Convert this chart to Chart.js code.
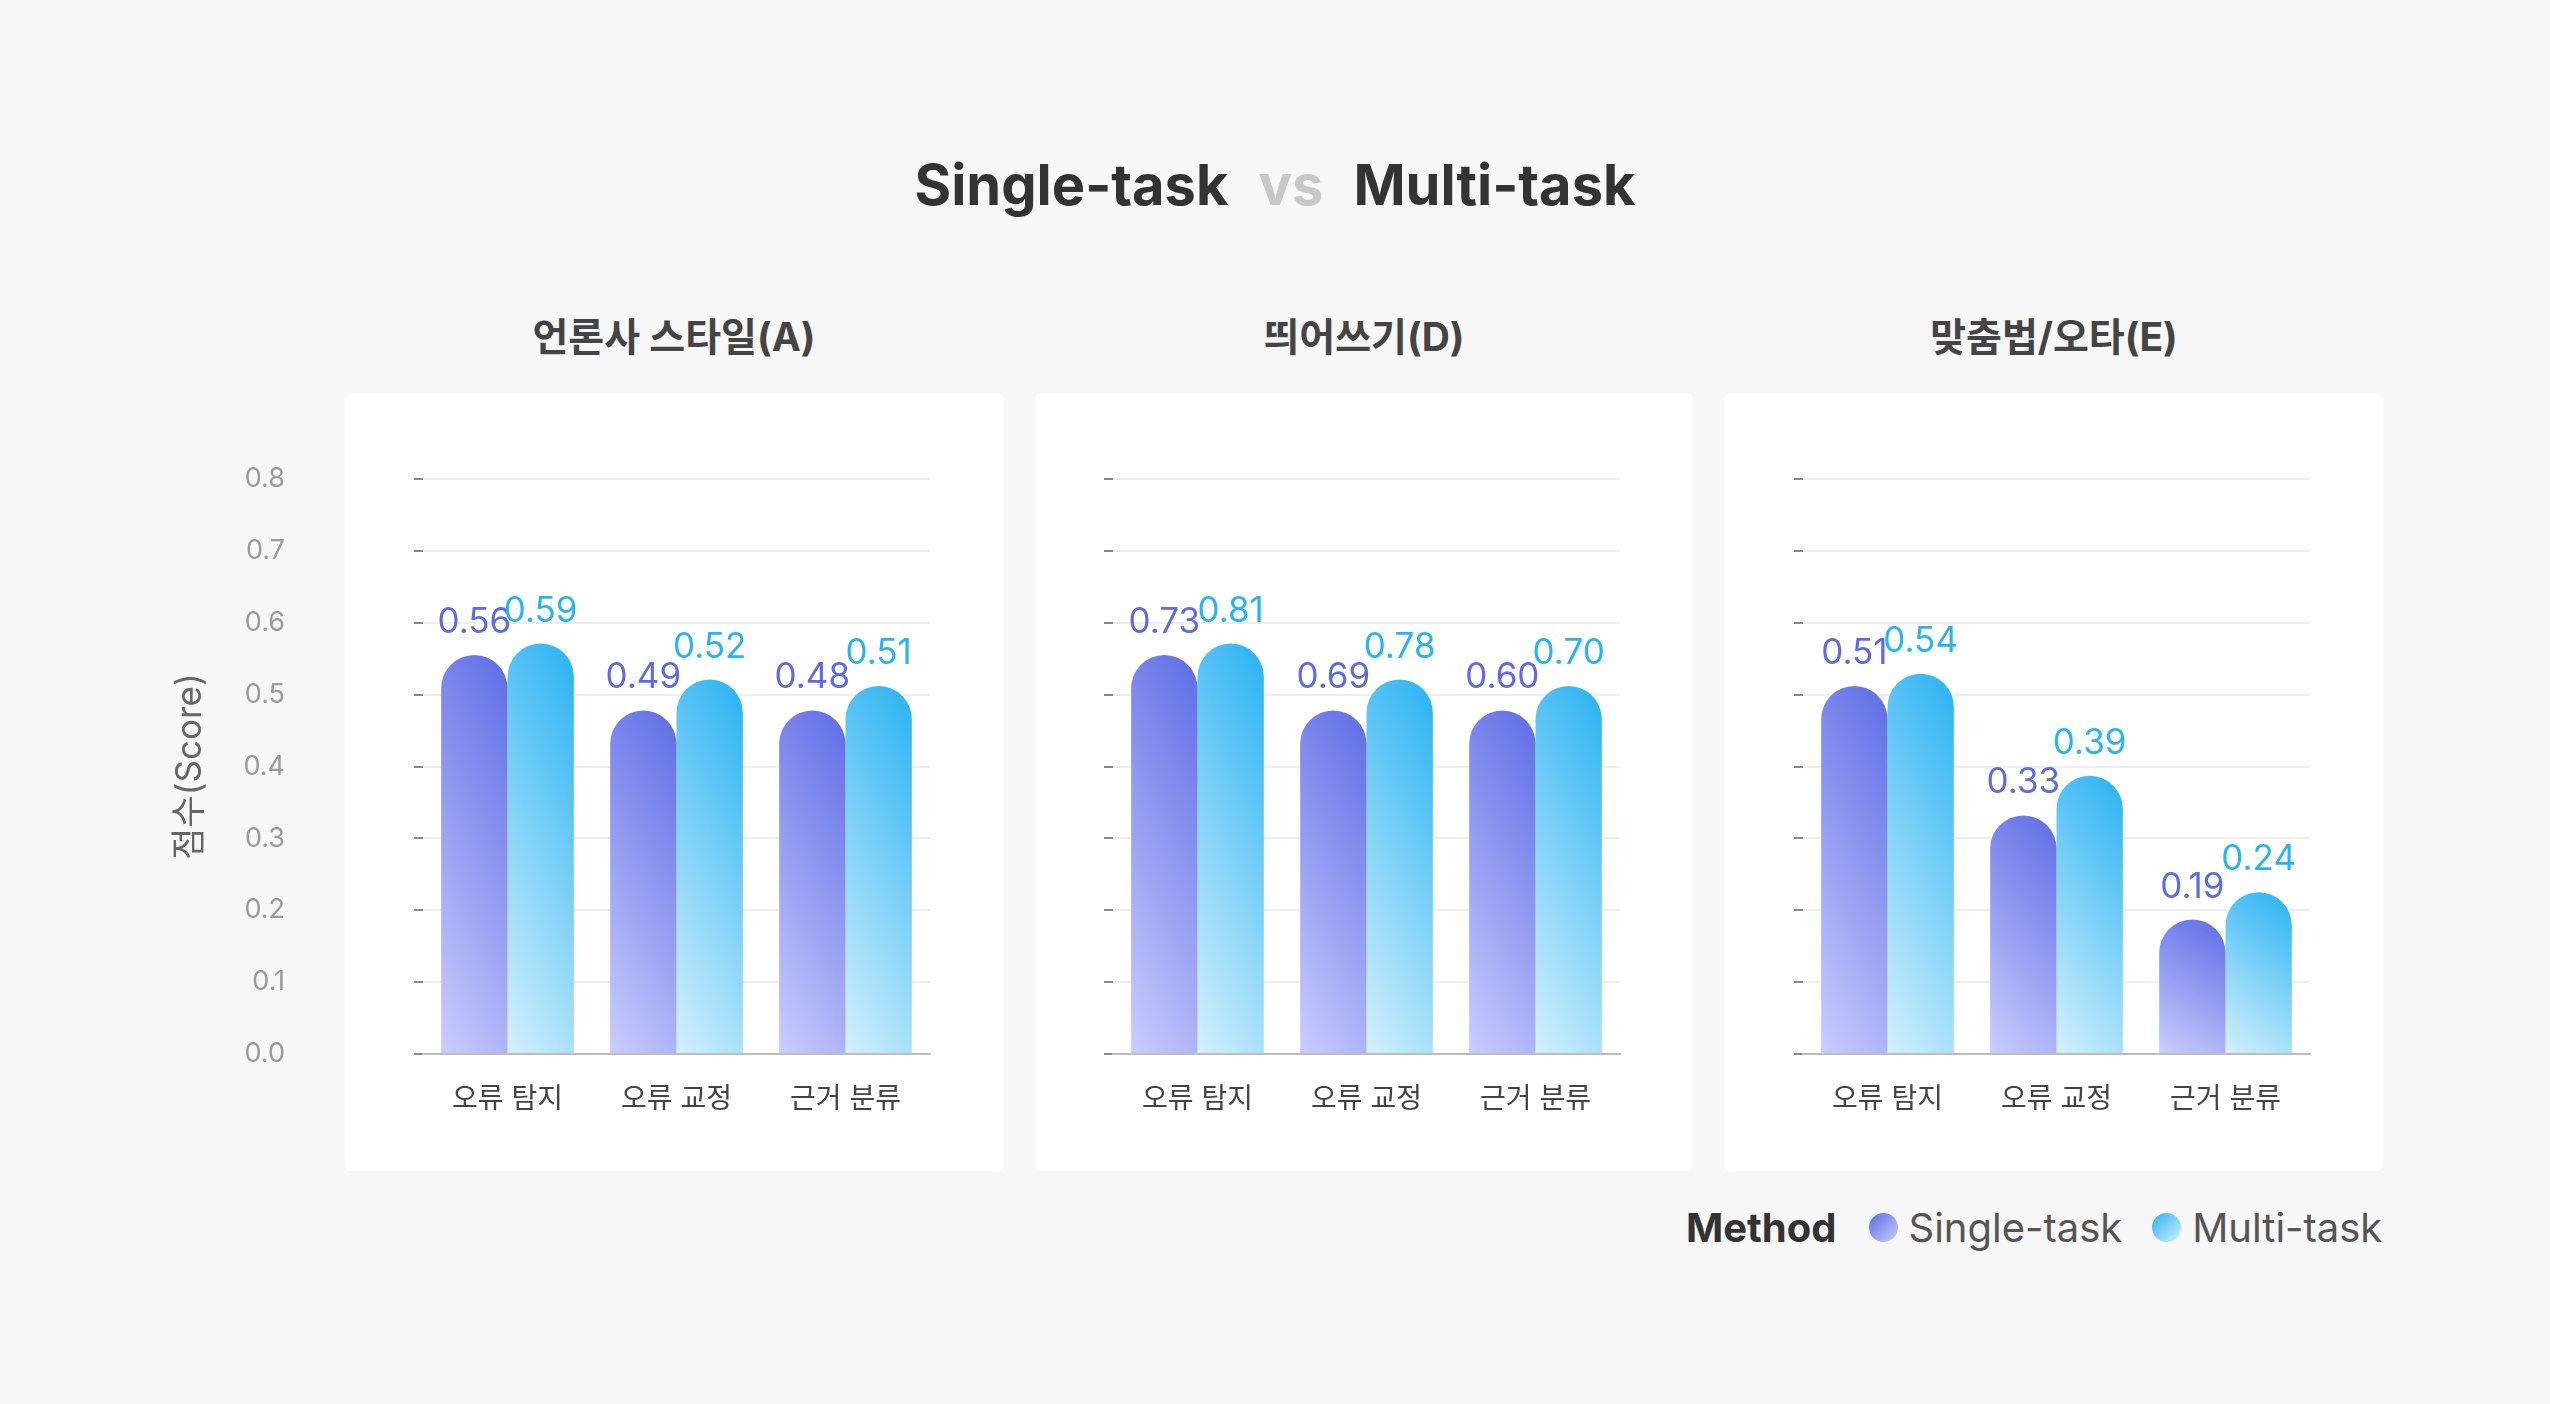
<!DOCTYPE html>
<html>
<head>
<meta charset="utf-8">
<script src="https://cdn.jsdelivr.net/npm/chart.js@4.4.1/dist/chart.umd.min.js"></script>
<style>
  html, body { margin:0; padding:0; background:#f7f7f7; width:2550px; height:1404px; overflow:hidden;
    font-family: Inter, 'Noto Sans CJK KR', sans-serif; }
  #title { position:absolute; left:0; width:2550px; top:157px; text-align:center; font-size:56px; line-height:56px;
    font-weight:700; color:#333; white-space:nowrap; }
  #title .vs { color:#c8c8c8; margin:0 30px; }
  .card { position:absolute; top:393px; width:658px; height:778px; background:#fff; border-radius:6px; }
  .sub { position:absolute; top:317px; width:658px; text-align:center; font-size:39px; line-height:39px;
    font-weight:700; color:#444; white-space:nowrap; }
  canvas { position:absolute; }
  #legend { position:absolute; left:1686px; top:1202px; height:50px; display:flex; align-items:center;
    font-size:40px; color:#555; white-space:nowrap; }
  #legend .lt { font-weight:700; color:#333; margin-right:32px; }
  #legend .dot { width:29px; height:29px; border-radius:50%; margin-right:11px; }
  #legend .lab { margin-right:30px; }
</style>
</head>
<body>
<div id="title"><span>Single-task</span><span class="vs">vs</span><span>Multi-task</span></div>

<div class="card" style="left:345px"></div>
<div class="card" style="left:1035px"></div>
<div class="card" style="left:1725px"></div>
<div class="sub" id="sub0" style="left:345px"></div>
<div class="sub" id="sub1" style="left:1035px"></div>
<div class="sub" id="sub2" style="left:1725px"></div>

<canvas id="c0" width="853" height="778" style="left:150px;top:393px;width:853px;height:778px"></canvas>
<canvas id="c1" width="658" height="778" style="left:1035px;top:393px;width:658px;height:778px"></canvas>
<canvas id="c2" width="658" height="778" style="left:1725px;top:393px;width:658px;height:778px"></canvas>

<div id="legend"></div>

<script>
// ---- data ----
const categories = ['오류 탐지', '오류 교정', '근거 분류'];
const panelTitles = ['언론사 스타일(A)', '띄어쓰기(D)', '맞춤법/오타(E)'];
const seriesNames = ['Single-task', 'Multi-task'];
const legendTitle = 'Method';
const yAxisTitle = '점수(Score)';
const yTicks = [0, 0.1, 0.2, 0.3, 0.4, 0.5, 0.6, 0.7, 0.8];

// bar heights as drawn in the picture
const barsA_single = [0.555, 0.478, 0.478];
const barsA_multi  = [0.571, 0.521, 0.512];
const barsD_single = [0.555, 0.478, 0.478];
const barsD_multi  = [0.571, 0.521, 0.512];
const barsE_single = [0.512, 0.332, 0.187];
const barsE_multi  = [0.529, 0.387, 0.225];

// value labels as printed above the bars
const labelsA_single = ['0.56', '0.49', '0.48'];
const labelsA_multi  = ['0.59', '0.52', '0.51'];
const labelsD_single = ['0.73', '0.69', '0.60'];
const labelsD_multi  = ['0.81', '0.78', '0.70'];
const labelsE_single = ['0.51', '0.33', '0.19'];
const labelsE_multi  = ['0.54', '0.39', '0.24'];

// ---- styles ----
const darkColors  = ['#5d6ce5', '#29b2f2'];
const lightColors = ['#c9cdfd', '#d4f0fd'];
const labelColors = ['#5d6ce4', '#2bb3f1'];
const FONT = "Inter, 'Noto Sans CJK KR', sans-serif";

document.getElementById('sub0').textContent = panelTitles[0];
document.getElementById('sub1').textContent = panelTitles[1];
document.getElementById('sub2').textContent = panelTitles[2];

// legend
const lg = document.getElementById('legend');
lg.innerHTML = '<span class="lt">' + legendTitle + '</span>' +
  seriesNames.map((n, i) => '<span class="dot" style="background:linear-gradient(135deg,' + darkColors[i] + ',' + lightColors[i] + ')"></span><span class="lab"' + (i === seriesNames.length - 1 ? ' style="margin-right:0"' : '') + '>' + n + '</span>').join('');

const gradientPlugin = {
  id: 'barGradient',
  beforeDatasetsDraw(chart) {
    const ctx = chart.ctx;
    chart.data.datasets.forEach((ds, di) => {
      const meta = chart.getDatasetMeta(di);
      meta.data.forEach(el => {
        const p = el.getProps(['x', 'y', 'base', 'width'], true);
        const left = p.x - p.width / 2;
        const h = Math.max(1, p.base - p.y);
        const a = 0.25, b = 0.75;
        const gx = a / p.width, gy = -b / h;
        const gg = gx * gx + gy * gy;
        const g = ctx.createLinearGradient(left, p.base, left + gx / gg, p.base + gy / gg);
        g.addColorStop(0, lightColors[di]);
        g.addColorStop(1, darkColors[di]);
        el.options.backgroundColor = g;
      });
    });
  }
};

const valueLabelPlugin = {
  id: 'valueLabels',
  afterDatasetsDraw(chart) {
    const ctx = chart.ctx;
    const texts = chart.options.plugins.valueLabels.texts;
    ctx.save();
    ctx.font = '35px ' + FONT;
    ctx.textAlign = 'center';
    ctx.textBaseline = 'alphabetic';
    chart.data.datasets.forEach((ds, di) => {
      const meta = chart.getDatasetMeta(di);
      ctx.fillStyle = labelColors[di];
      meta.data.forEach((el, i) => {
        const p = el.getProps(['x', 'y'], true);
        ctx.fillText(texts[di][i], p.x, p.y - 22);
      });
    });
    ctx.restore();
  }
};

function makeChart(id, single, multi, lblS, lblM, showY) {
  return new Chart(document.getElementById(id), {
    type: 'bar',
    data: {
      labels: categories,
      datasets: [single, multi].map((d, i) => ({
        label: seriesNames[i],
        data: d,
        backgroundColor: () => darkColors[i],
        borderWidth: 0,
        borderRadius: { topLeft: 60, topRight: 60, bottomLeft: 0, bottomRight: 0 },
        borderSkipped: 'start',
        barPercentage: 1.0,
        categoryPercentage: 0.785
      }))
    },
    options: {
      responsive: false,
      animation: false,
      events: [],
      layout: { padding: { top: 86, right: 73, left: 0, bottom: 0 } },
      plugins: {
        legend: { display: false },
        title: { display: false },
        tooltip: { enabled: false },
        valueLabels: { texts: [lblS, lblM] }
      },
      scales: {
        x: {
          grid: { display: false, drawTicks: false },
          border: { display: true, color: '#bdbdbd', width: 2 },
          ticks: { color: '#444', font: { family: FONT, size: 28 }, padding: 29 },
          afterFit(s) { s.height = 117; s.paddingLeft = 0; s.paddingRight = 0; }
        },
        y: {
          min: 0, max: 0.8,
          afterBuildTicks(s) { s.ticks = yTicks.map(v => ({ value: v })); },
          grid: { color: '#eeeeee', lineWidth: 2, tickLength: 9, tickColor: '#8a8a8a', tickWidth: 2, drawTicks: true },
          border: { display: false },
          ticks: {
            display: showY,
            color: '#9a9a9a',
            font: { family: FONT, size: 27 },
            padding: 129,
            callback: v => Number(v).toFixed(1)
          },
          title: {
            display: showY,
            text: yAxisTitle,
            color: '#666',
            font: { family: FONT, size: 35 },
            padding: { top: 19, bottom: 0 }
          },
          afterFit(s) { s.width = showY ? 273 : 78; s.paddingTop = 0; s.paddingBottom = 0; }
        }
      }
    },
    plugins: [gradientPlugin, valueLabelPlugin]
  });
}

makeChart('c0', barsA_single, barsA_multi, labelsA_single, labelsA_multi, true);
makeChart('c1', barsD_single, barsD_multi, labelsD_single, labelsD_multi, false);
makeChart('c2', barsE_single, barsE_multi, labelsE_single, labelsE_multi, false);
</script>
</body>
</html>
